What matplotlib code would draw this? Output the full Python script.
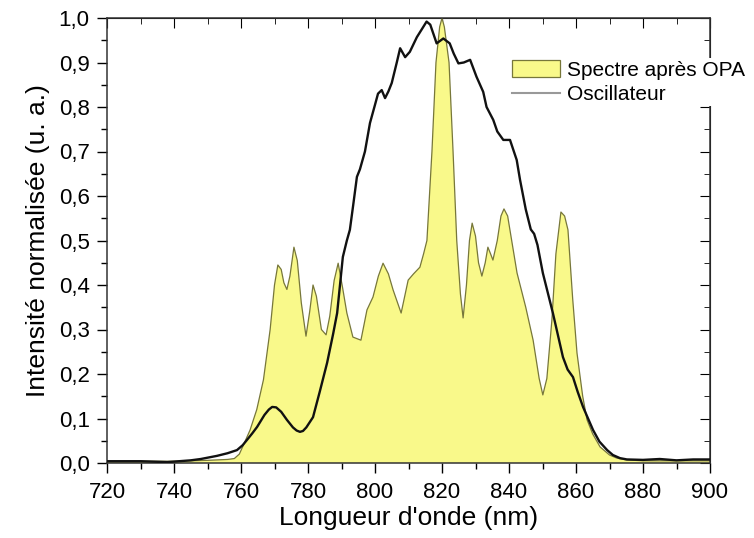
import matplotlib.pyplot as plt
from matplotlib.patches import Patch
from matplotlib.lines import Line2D
from matplotlib.ticker import MultipleLocator

plt.rcParams['font.family'] = ['Liberation Sans', 'DejaVu Sans']

# Spectre après OPA (nm, normalised intensity)
opa_nm = [720, 730, 740, 745, 750, 753, 756, 758, 759.5, 761, 762.7, 764.7, 766.7,
          768.7, 770, 771, 772, 772.8, 773.7, 774.6, 775.8, 776.8, 778, 779.4, 780.5,
          781.5, 782.5, 784, 785.4, 786.5, 787.8, 789, 790.3, 791.6, 793.4, 795.8, 797.6,
          799.4, 801, 802.4, 804, 805.4, 807.8, 809.9, 811.5, 813.4, 814.5, 815.5, 817,
          818.2, 819.3, 820, 820.7, 822.1, 823.3, 824.4, 825.5, 826.3, 827.3, 828.2, 829,
          830, 830.9, 831.9, 832.9, 833.7, 834.5, 835.2, 836.5, 837.6, 838.5, 839.6, 840.8,
          842.4, 845, 847.2, 849, 850.1, 851.3, 852.8, 854, 855.5, 856.6, 857.6, 859,
          860.3, 862, 863.3, 865, 867.2, 870, 872.2, 875, 880, 890, 900]
opa_val = [0.004, 0.004, 0.004, 0.005, 0.006, 0.007, 0.008, 0.01, 0.02, 0.045, 0.074, 0.12,
           0.187, 0.30, 0.40, 0.445, 0.435, 0.405, 0.39, 0.42, 0.485, 0.455, 0.36, 0.285,
           0.34, 0.40, 0.375, 0.30, 0.288, 0.33, 0.41, 0.449, 0.395, 0.337, 0.283, 0.276,
           0.344, 0.373, 0.42, 0.449, 0.425, 0.389, 0.337, 0.411, 0.425, 0.44, 0.47, 0.50,
           0.70, 0.90, 0.98, 1.0, 0.98, 0.90, 0.70, 0.50, 0.38, 0.326, 0.40, 0.50, 0.539,
           0.51, 0.45, 0.42, 0.45, 0.485, 0.47, 0.456, 0.50, 0.555, 0.571, 0.555, 0.50,
           0.427, 0.35, 0.276, 0.19, 0.153, 0.19, 0.321, 0.47, 0.564, 0.555, 0.524,
           0.37, 0.247, 0.15, 0.097, 0.065, 0.036, 0.018, 0.011, 0.007, 0.005, 0.005, 0.005]

# Oscillateur
osc_nm = [720, 730, 738, 745, 748, 752.8, 756, 758.8, 760.5, 761.8, 763.3, 764.8, 767,
          768.3, 769.3, 770.5, 772, 773.7, 775.5, 776.6, 777.6, 778.5, 779.5, 781.5,
          783.5, 785.7, 787.5, 788.7, 790.4, 791.6, 792.5, 793.5, 794.6, 795.5, 797, 798.5,
          800, 800.9, 802, 803, 804, 805, 806.5, 807.5, 809, 810.4, 812.5, 814, 815.4,
          816.5, 818.4, 820.4, 822.3, 823.5, 824.9, 826.5, 828.4, 830.3, 832.3, 833.3,
          835.3, 836.5, 838.3, 840.3, 842.3, 843.3, 845, 846.5, 847.5, 848.5, 850.1, 853.1,
          856.1, 857.5, 859.1, 860.5, 862.1, 865.1, 867, 869.3, 871, 873.1, 875.2, 880,
          885, 890, 895, 900]
osc_val = [0.004, 0.004, 0.002, 0.006, 0.009, 0.016, 0.022, 0.029, 0.04, 0.052, 0.066,
           0.081, 0.108, 0.12, 0.126, 0.125, 0.115, 0.097, 0.08, 0.073, 0.07, 0.072, 0.08,
           0.103, 0.16, 0.225, 0.29, 0.337, 0.463, 0.50, 0.524, 0.58, 0.643, 0.66, 0.70,
           0.764, 0.805, 0.83, 0.838, 0.82, 0.835, 0.854, 0.90, 0.932, 0.912, 0.924, 0.957,
           0.975, 0.992, 0.985, 0.943, 0.954, 0.943, 0.92, 0.898, 0.90, 0.906, 0.868, 0.834,
           0.80, 0.771, 0.745, 0.726, 0.726, 0.681, 0.636, 0.57, 0.525, 0.515, 0.49, 0.427,
           0.337, 0.238, 0.21, 0.193, 0.16, 0.126, 0.074, 0.048, 0.029, 0.018, 0.011,
           0.008, 0.007, 0.009, 0.006, 0.008, 0.008]

x_ticks = [720, 740, 760, 780, 800, 820, 840, 860, 880, 900]
y_ticks = [0.0, 0.1, 0.2, 0.3, 0.4, 0.5, 0.6, 0.7, 0.8, 0.9, 1.0]
y_labels = ['0,0', '0,1', '0,2', '0,3', '0,4', '0,5', '0,6', '0,7', '0,8', '0,9', '1,0']

yellow = '#f9f98a'
edge = '#77773a'

fig = plt.figure(figsize=(7.54, 5.38), dpi=100)
ax = fig.add_axes([107 / 754, 1 - 463 / 538, 603 / 754, 445 / 538])

ax.fill_between(opa_nm, 0, opa_val, facecolor=yellow, edgecolor='none', zorder=1)
ax.plot(opa_nm, opa_val, color=edge, lw=0.9, zorder=2, solid_joinstyle='round')
ax.plot(osc_nm, osc_val, color='#111111', lw=1.7, zorder=3, solid_joinstyle='round')

ax.set_xlim(720, 900)
ax.set_ylim(0, 1.0)
ax.set_xticks(x_ticks)
ax.set_yticks(y_ticks)
ax.set_yticklabels(y_labels)
ax.xaxis.set_minor_locator(MultipleLocator(10))
ax.yaxis.set_minor_locator(MultipleLocator(0.05))
ax.tick_params(which='major', direction='out', length=7.5, width=1, labelsize=16)
ax.tick_params(axis='y', pad=5)
ax.tick_params(axis='x', pad=6)
ax.tick_params(which='minor', direction='out', length=4, width=1)

for s in ax.spines.values():
    s.set_linewidth(1.1)
    s.set_color('#333333')

# inward ticks on the top and right sides
top = ax.secondary_xaxis('top')
top.set_xticks(x_ticks)
top.xaxis.set_minor_locator(MultipleLocator(10))
top.tick_params(which='major', direction='in', length=7, labeltop=False)
top.tick_params(which='minor', direction='in', length=4)
right = ax.secondary_yaxis('right')
right.set_yticks(y_ticks)
right.yaxis.set_minor_locator(MultipleLocator(0.05))
right.tick_params(which='major', direction='in', length=7, labelright=False)
right.tick_params(which='minor', direction='in', length=4)

ax.set_xlabel("Longueur d'onde (nm)", fontsize=19, labelpad=2)
ax.set_ylabel("Intensité normalisée (u. a.)", fontsize=19, labelpad=6)

handles = [Patch(facecolor=yellow, edgecolor=edge, linewidth=0.9),
           Line2D([0], [0], color='#999999', lw=1.5)]
leg = ax.legend(handles, ['Spectre après OPA', 'Oscillateur'], loc='upper left',
                bbox_to_anchor=(0.668, 0.91), frameon=True, fontsize=15,
                handlelength=2.3, handleheight=0.85, handletextpad=0.35,
                labelspacing=0.25, borderpad=0.1, borderaxespad=0)
leg.get_frame().set_facecolor('white')
leg.get_frame().set_edgecolor('none')
leg.get_frame().set_alpha(1)
leg.set_zorder(10)

fig.savefig('out.png', dpi=100, facecolor='white')
